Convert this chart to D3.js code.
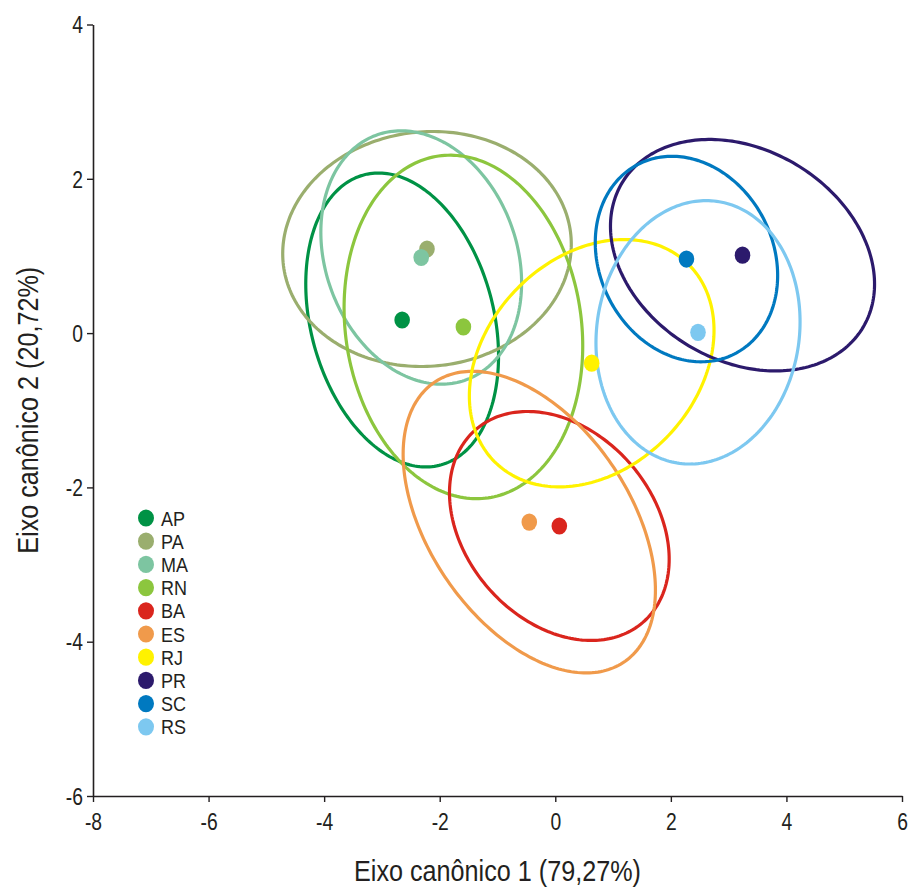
<!DOCTYPE html>
<html>
<head>
<meta charset="utf-8">
<script src="https://cdn.jsdelivr.net/npm/d3@7/dist/d3.min.js"></script>
<style>
  html, body { margin: 0; padding: 0; background: #fff; }
  svg { display: block; }
  text { font-family: "Liberation Sans", Arial, sans-serif; fill: #231f20; }
</style>
</head>
<body>
<svg id="chart" width="908" height="888"></svg>
<script>
// Canonical discriminant scores: group centroids and covariance ellipses
const groups = ["AP", "PA", "MA", "RN", "BA", "ES", "RJ", "PR", "SC", "RS"];
const colors = ["#009245", "#9aae6e", "#7dc5a1", "#8cc63e", "#da251d", "#f09a4b", "#fff200", "#2c1a6c", "#0079c0", "#7dc8f0"];
const centroidX = [-2.65, -2.22, -2.32, -1.59, 0.07, -0.45, 0.63, 3.24, 2.27, 2.47];
const centroidY = [0.17, 1.09, 0.98, 0.08, -2.50, -2.45, -0.39, 1.01, 0.96, 0.01];
// ellipse spread along each axis and correlation
const spreadX = [1.668, 2.497, 1.737, 2.065, 1.901, 2.183, 2.117, 2.285, 1.578, 1.766];
const spreadY = [1.905, 1.523, 1.642, 2.226, 1.484, 1.955, 1.603, 1.500, 1.332, 1.707];
const corr    = [-0.245, 0.04, -0.20, -0.11, -0.29, -0.45, 0.265, -0.25, -0.16, 0.08];

const xTicks = [-8, -6, -4, -2, 0, 2, 4, 6];
const yTicks = [-6, -4, -2, 0, 2, 4];
const xTitle = "Eixo canônico 1 (79,27%)";
const yTitle = "Eixo canônico 2 (20,72%)";

const svg = d3.select("#chart");
const margin = { left: 93, right: 6, top: 24.5, bottom: 92 };
const W = 908, H = 888;
const narrow = 0.84; // condensed lettering

const x = d3.scaleLinear().domain([-8, 6]).range([margin.left, W - margin.right]);
const y = d3.scaleLinear().domain([-6, 4]).range([H - margin.bottom, margin.top]);

const data = groups.map((g, i) => ({
  name: g, color: colors[i],
  cx: centroidX[i], cy: centroidY[i],
  sx: spreadX[i], sy: spreadY[i], r: corr[i]
}));

// ellipse outline in data space
function ellipsePoints(d) {
  const n = 240, pts = [];
  const k = Math.sqrt(1 - d.r * d.r);
  for (let j = 0; j < n; j++) {
    const t = 2 * Math.PI * j / n;
    pts.push([d.cx + d.sx * Math.cos(t), d.cy + d.sy * (d.r * Math.cos(t) + k * Math.sin(t))]);
  }
  return pts;
}
const line = d3.line().x(p => x(p[0])).y(p => y(p[1])).curve(d3.curveLinearClosed);

svg.append("g").selectAll("path").data(data).join("path")
  .attr("d", d => line(ellipsePoints(d)))
  .attr("fill", "none")
  .attr("stroke", d => d.color)
  .attr("stroke-width", 3.2);

svg.append("g").selectAll("ellipse").data(data).join("ellipse")
  .attr("cx", d => x(d.cx)).attr("cy", d => y(d.cy))
  .attr("rx", 7.8).attr("ry", 8.6)
  .attr("fill", d => d.color);

// axes
const fmt = d => String(d);
const xAxis = svg.append("g").attr("transform", `translate(0,${y(-6)})`)
  .call(d3.axisBottom(x).tickValues(xTicks).tickSize(6).tickSizeOuter(0).tickFormat(fmt));
const yAxis = svg.append("g").attr("transform", `translate(${x(-8)},0)`)
  .call(d3.axisLeft(y).tickValues(yTicks).tickSize(6).tickSizeOuter(0).tickFormat(fmt));

[xAxis, yAxis].forEach(a => {
  a.attr("font-family", null).attr("font-size", null);
  a.select(".domain").attr("stroke", "#231f20").attr("stroke-width", 1.6);
  a.selectAll(".tick line").attr("stroke", "#231f20").attr("stroke-width", 1.4);
  a.selectAll(".tick text").attr("font-size", 23).attr("fill", "#231f20");
});
xAxis.selectAll(".tick text").attr("y", 0).attr("dy", null)
  .attr("transform", `translate(0,34) scale(${narrow},1)`);
yAxis.selectAll(".tick text").attr("x", 0).attr("dy", "0.36em")
  .attr("transform", `translate(-10,0) scale(${narrow},1)`);

svg.append("text")
  .attr("transform", `translate(${(x(-8) + x(6)) / 2},881) scale(${narrow},1)`)
  .attr("text-anchor", "middle").attr("font-size", 30)
  .text(xTitle);

svg.append("text")
  .attr("transform", `translate(38,${(y(4) + y(-6)) / 2}) rotate(-90) scale(${narrow},1)`)
  .attr("text-anchor", "middle").attr("font-size", 30)
  .text(yTitle);

// legend
const legend = svg.append("g");
const lg = legend.selectAll("g").data(data).join("g")
  .attr("transform", (d, i) => `translate(146,${518 + i * 23.2})`);
lg.append("ellipse").attr("rx", 8).attr("ry", 8.6).attr("fill", d => d.color);
lg.append("text").attr("transform", "translate(15,7.5) scale(0.9,1)")
  .attr("font-size", 20).text(d => d.name);
</script>
</body>
</html>
